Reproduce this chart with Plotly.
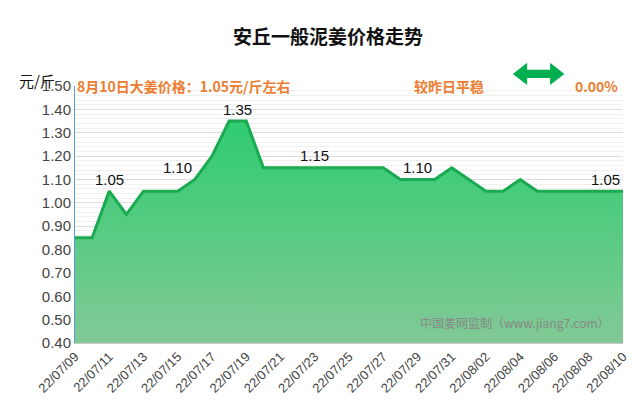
import plotly.graph_objects as go
import pandas as pd

# 每日价格（元/斤）
dates = pd.date_range('2022-07-09', '2022-08-10').strftime('%y/%m/%d').tolist()
prices = [0.85, 0.85, 1.05, 0.95, 1.05, 1.05, 1.05, 1.10, 1.20, 1.35, 1.35,
          1.15, 1.15, 1.15, 1.15, 1.15, 1.15, 1.15, 1.15, 1.10, 1.10, 1.10,
          1.15, 1.10, 1.05, 1.05, 1.10, 1.05, 1.05, 1.05, 1.05, 1.05, 1.05]

label_dates = ['22/07/11', '22/07/15', '22/07/18', '22/07/23', '22/07/29', '22/08/09']
label_texts = ['1.05', '1.10', '1.35', '1.15', '1.10', '1.05']
label_y = [1.05, 1.10, 1.35, 1.15, 1.10, 1.05]

tick_dates = dates[::2]

fig = go.Figure()
fig.add_trace(go.Scatter(
    x=list(range(len(dates))), y=prices, mode='lines',
    line=dict(color='#1aaa50', width=3),
    fill='tozeroy',
    fillgradient=dict(type='vertical',
                      colorscale=[[0, '#a5c8a5'], [1, '#2ecc71']]),
    hoverinfo='skip'
))

for d, t, yv in zip(label_dates, label_texts, label_y):
    xi = dates.index(d)
    if t == '1.35':
        xi += 0.5
    fig.add_annotation(x=xi, y=yv, text=t, showarrow=False, yshift=12,
                       font=dict(size=15, color='#111', family='Liberation Sans'))

fig.add_annotation(xref='paper', yref='paper', x=0.98, y=0.04,
                   text='中国姜网监制（www.jiang7.com）', showarrow=False,
                   xanchor='right', font=dict(size=12, color='#888'))

fig.update_layout(
    width=640, height=410,
    margin=dict(l=67, r=25, t=78, b=75, autoexpand=False),
    plot_bgcolor='white', paper_bgcolor='white',
    font=dict(family='Noto Sans CJK SC'),
    showlegend=False,
    title=dict(text='<b>安丘一般泥姜价格走势</b>', x=0.5, y=0.945,
               font=dict(size=19, color='#111')),
    xaxis=dict(
        tickvals=[dates.index(d) for d in tick_dates], ticktext=tick_dates,
        tickangle=-45, range=[0, len(dates) - 1], automargin=False,
        showgrid=False, tickfont=dict(size=13, color='#444', family='Liberation Sans'),
        showline=True, linecolor='#ccc'
    ),
    yaxis=dict(
        range=[0.4, 1.5], dtick=0.1, tickformat='.2f', automargin=False,
        gridcolor='#ddd', showline=True, linecolor='#5b9bd5',
        tickfont=dict(size=15, color='#444', family='Liberation Sans'),
        minor=dict(dtick=0.02, showgrid=True, gridcolor='#f0f0f0')
    ),
)

hy = 1 + 12 / 257
fig.add_annotation(xref='paper', yref='paper', x=-0.105, y=1 + 18 / 257, xanchor='left',
                   text='元/斤', showarrow=False, font=dict(size=15, color='#111'))
fig.add_annotation(xref='paper', yref='paper', x=0.0, y=hy, xanchor='left',
                   text='<b>8月10日大姜价格：1.05元/斤左右</b>', showarrow=False,
                   font=dict(size=14, color='#ed7d31'))
fig.add_annotation(xref='paper', yref='paper', x=0.615, y=hy, xanchor='left',
                   text='<b>较昨日平稳</b>', showarrow=False,
                   font=dict(size=14, color='#ed7d31'))
fig.add_annotation(xref='paper', yref='paper', x=0.995, y=hy, xanchor='right',
                   text='<b>0.00%</b>', showarrow=False,
                   font=dict(size=14, color='#ed7d31'))
# 双向箭头
fig.add_shape(type='path', xref='paper', yref='paper', fillcolor='#00b050',
              line=dict(width=0),
              path='M 0.799 1.047 L 0.825 1.090 L 0.825 1.063 L 0.867 1.063 '
                   'L 0.867 1.090 L 0.893 1.047 L 0.867 1.004 L 0.867 1.031 '
                   'L 0.825 1.031 L 0.825 1.004 Z')

fig.write_html('out.html')
